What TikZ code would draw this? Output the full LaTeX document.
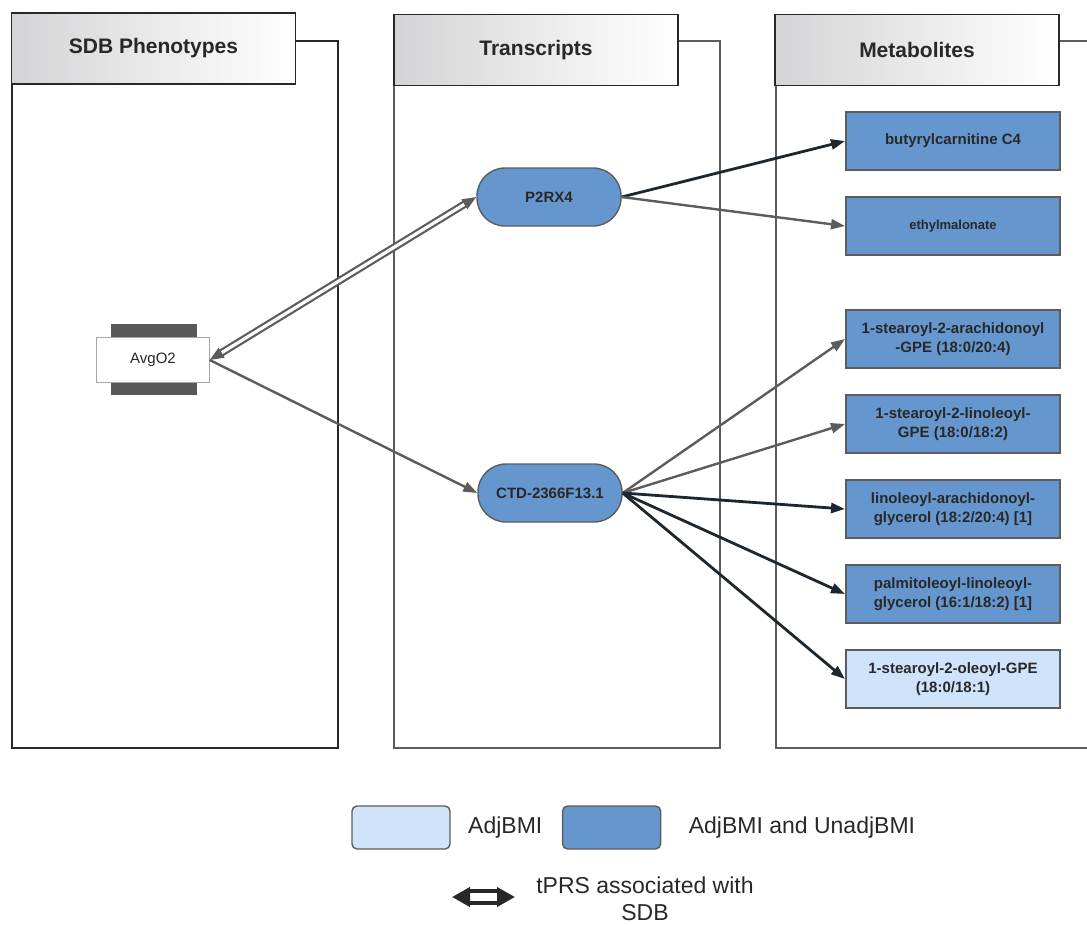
\documentclass[tikz,border=0pt]{standalone}
\usepackage{fontspec}
\setmainfont{Liberation Sans}
\usepackage{xcolor}
\usetikzlibrary{shapes,arrows,positioning,calc,arrows.meta}
\definecolor{nodeblue}{RGB}{101,151,206}
\definecolor{lightblue}{RGB}{207,227,250}
\definecolor{edgegray}{RGB}{92,92,92}
\definecolor{edgedark}{RGB}{30,38,46}
\definecolor{hdrgray}{RGB}{212,212,214}
\definecolor{txtdark}{RGB}{40,40,40}
\definecolor{bargray}{RGB}{88,88,88}

\begin{document}
\begin{tikzpicture}[x=1pt,y=-1pt,
    header/.style={draw=txtdark, line width=1.6pt, left color=hdrgray, middle color=hdrgray!70, right color=white,
      minimum width=284pt, minimum height=71pt, inner sep=0pt,
      font=\fontsize{21}{25}\selectfont\bfseries, text=txtdark},
    transcript/.style={draw=edgegray, line width=1.4pt, fill=nodeblue, rounded corners=28pt,
      minimum width=144pt, minimum height=58pt, font=\fontsize{15}{18}\selectfont\bfseries, text=txtdark},
    metab/.style={draw=edgegray, line width=2pt, fill=nodeblue, minimum width=214pt, minimum height=58pt,
      inner sep=0pt, align=center, font=\fontsize{15}{18.5}\selectfont\bfseries, text=txtdark},
    grayarrow/.style={draw=edgegray, line width=2.4pt, -{Triangle[length=14pt,width=10pt]}},
    darkarrow/.style={draw=edgedark, line width=2.8pt, -{Triangle[length=14pt,width=10pt]}},
    legbox/.style={draw=edgegray, line width=1.4pt, rounded corners=5pt, minimum width=98pt, minimum height=43pt},
    legtext/.style={font=\fontsize{23}{27}\selectfont, text=txtdark, align=center}]
    \useasboundingbox (0,0) rectangle (1087,924);

    % Panels
    \draw[txtdark, line width=1.6pt] (12,41) rectangle (338,748);
    \draw[edgegray, line width=1.6pt] (394,41) rectangle (720,748);
    \draw[edgegray, line width=1.6pt] (1087,41) -- (776,41) -- (776,748) -- (1087,748);
    \node[header] (hdrsdb) at (153.5,48.5) {SDB Phenotypes};
    \node[header] (hdrtrans) at (536,50) {Transcripts};
    \node[header] (hdrmetab) at (917,50) {Metabolites};

    % Phenotype
    \fill[bargray] (111,324) rectangle (197,339);
    \fill[bargray] (111,382) rectangle (197,395);
    \node[draw=gray!70, fill=white, minimum width=113pt, minimum height=45pt,
      font=\fontsize{15}{18}\selectfont, text=txtdark] (avg) at (153,360) {AvgO2};

    % Transcripts
    \node[transcript] (p2rx4) at (549,197) {P2RX4};
    \node[transcript] (ctd) at (550,493) {CTD-2366F13.1};

    % Metabolites
    \node[metab] (m1) at (953,141) {butyrylcarnitine C4};
    \node[metab, font=\fontsize{13}{16}\selectfont\bfseries] (m2) at (953,226) {ethylmalonate};
    \node[metab] (m3) at (953,339) {1-stearoyl-2-arachidonoyl\\-GPE (18:0/20:4)};
    \node[metab] (m4) at (953,424) {1-stearoyl-2-linoleoyl-\\GPE (18:0/18:2)};
    \node[metab] (m5) at (953,509) {linoleoyl-arachidonoyl-\\glycerol (18:2/20:4) [1]};
    \node[metab] (m6) at (953,594) {palmitoleoyl-linoleoyl-\\glycerol (16:1/18:2) [1]};
    \node[metab, fill=lightblue] (m7) at (953,679) {1-stearoyl-2-oleoyl-GPE\\(18:0/18:1)};

    % Connectors
    \draw[draw=edgegray, line width=2.2pt, double=white, double distance=3.2pt,
      {Triangle[length=14pt,width=11pt]}-{Triangle[length=14pt,width=11pt]}] (avg.east) -- (p2rx4.west);
    \draw[grayarrow] (avg.east) -- (ctd.west);
    \draw[darkarrow] (p2rx4.east) -- (m1.west);
    \draw[grayarrow] (p2rx4.east) -- (m2.west);
    \draw[grayarrow] (ctd.east) -- (m3.west);
    \draw[grayarrow] (ctd.east) -- (m4.west);
    \draw[darkarrow] (ctd.east) -- (m5.west);
    \draw[darkarrow] (ctd.east) -- (m6.west);
    \draw[darkarrow] (ctd.east) -- (m7.west);

    % Legend
    \node[legbox, fill=lightblue] (legadj) at (401,827.5) {};
    \node[legtext, right=14pt of legadj] (legadjtxt) {AdjBMI};
    \node[legbox, fill=nodeblue, right=16pt of legadjtxt] (legboth) {};
    \node[legtext, right=24pt of legboth] (legbothtxt) {AdjBMI and UnadjBMI};
    \coordinate (tprsa) at (452,897);
    \coordinate (tprsb) at (515,897);
    \draw[draw=txtdark, line width=4pt, double=white, double distance=8pt,
      {Triangle[length=18pt,width=19pt]}-{Triangle[length=18pt,width=19pt]}] (tprsa) -- (tprsb);
    \node[legtext, inner sep=0pt] (tprstxt) at (645,899) {tPRS associated with\\SDB};
\end{tikzpicture}
\end{document}
